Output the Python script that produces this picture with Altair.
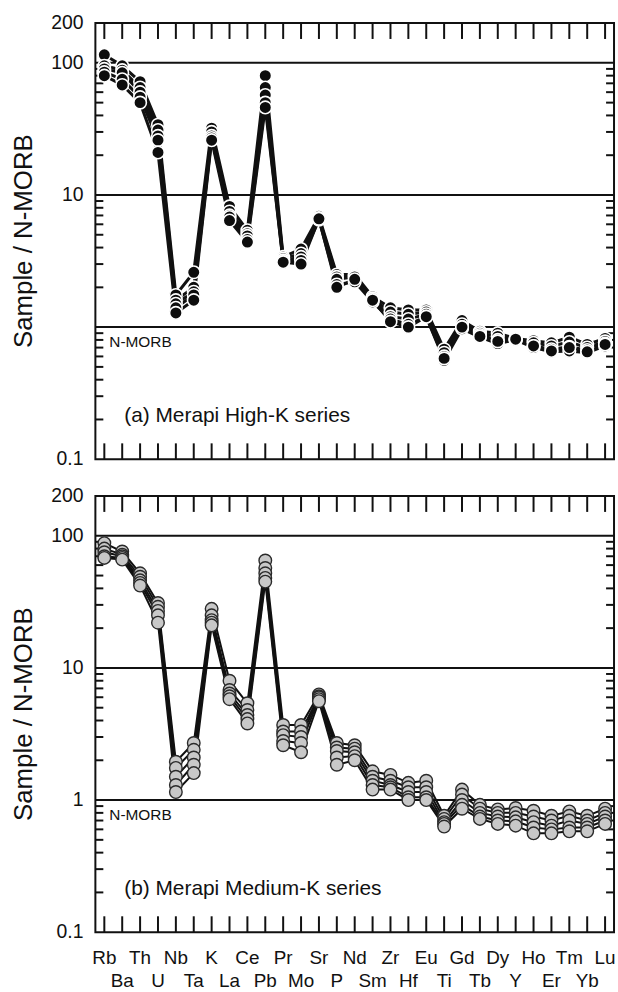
import altair as alt
import pandas as pd

# ---------------- data ----------------
elements = ["Rb", "Ba", "Th", "U", "Nb", "Ta", "K", "La", "Ce", "Pb", "Pr", "Mo",
            "Sr", "P", "Nd", "Sm", "Zr", "Hf", "Eu", "Ti", "Gd", "Tb", "Dy", "Y",
            "Ho", "Er", "Tm", "Yb", "Lu"]

# (a) Merapi High-K series  (Sample / N-MORB)
hk_1 = [115, 95, 72, 34, 1.75, 2.6, 32, 8.2, 5.4, 80, 3.4, 3.9, 6.9, 2.5, 2.5, 1.7, 1.4, 1.35, 1.35, 0.68, 1.12, 0.93, 0.90, 0.82, 0.79, 0.76, 0.84, 0.74, 0.82]
hk_2 = [95, 88, 65, 31, 1.6, 2.0, 30, 7.5, 5.1, 65, 3.3, 3.6, 6.7, 2.4, 2.45, 1.65, 1.3, 1.25, 1.3, 0.64, 1.05, 0.90, 0.85, 0.81, 0.76, 0.72, 0.77, 0.70, 0.78]
hk_3 = [90, 84, 60, 28, 1.5, 1.85, 28, 7.0, 4.9, 57, 3.2, 3.4, 6.6, 2.3, 2.4, 1.6, 1.2, 1.15, 1.25, 0.60, 1.00, 0.87, 0.80, 0.80, 0.72, 0.68, 0.71, 0.67, 0.75]
hk_4 = [85, 75, 55, 26, 1.4, 1.75, 27, 6.8, 4.6, 50, 3.1, 3.2, 6.5, 2.1, 2.2, 1.55, 1.15, 1.05, 1.2, 0.56, 0.97, 0.84, 0.75, 0.80, 0.70, 0.65, 0.66, 0.64, 0.72]
hk_5 = [80, 68, 50, 21, 1.28, 1.6, 26, 6.4, 4.4, 46, 3.1, 3.0, 6.6, 2.0, 2.3, 1.6, 1.1, 1.0, 1.2, 0.58, 1.00, 0.85, 0.78, 0.81, 0.72, 0.66, 0.70, 0.65, 0.74]

# (b) Merapi Medium-K series (Sample / N-MORB)
mk_1 = [88, 76, 52, 31, 1.95, 2.7, 28, 8.0, 5.4, 65, 3.7, 3.7, 6.3, 2.7, 2.6, 1.65, 1.55, 1.35, 1.4, 0.76, 1.2, 0.92, 0.85, 0.87, 0.83, 0.76, 0.82, 0.76, 0.86]
mk_2 = [80, 72, 49, 29, 1.75, 2.4, 25, 6.8, 4.8, 57, 3.3, 3.3, 6.1, 2.5, 2.45, 1.5, 1.4, 1.25, 1.25, 0.72, 1.1, 0.86, 0.80, 0.80, 0.75, 0.70, 0.76, 0.70, 0.80]
mk_3 = [75, 70, 46, 27, 1.5, 2.1, 23, 6.4, 4.4, 52, 3.1, 3.0, 6.0, 2.35, 2.3, 1.4, 1.3, 1.15, 1.15, 0.68, 1.0, 0.80, 0.75, 0.74, 0.68, 0.64, 0.70, 0.66, 0.75]
mk_4 = [70, 68, 44, 25, 1.3, 1.85, 22, 6.1, 4.1, 48, 2.8, 2.7, 5.8, 2.1, 2.15, 1.3, 1.25, 1.05, 1.05, 0.66, 0.92, 0.75, 0.70, 0.69, 0.62, 0.60, 0.62, 0.62, 0.70]
mk_5 = [68, 66, 42, 22, 1.15, 1.6, 21, 5.8, 3.8, 45, 2.6, 2.3, 5.6, 1.85, 2.0, 1.2, 1.2, 1.0, 1.0, 0.63, 0.86, 0.72, 0.66, 0.64, 0.56, 0.56, 0.58, 0.58, 0.66]

high_k = {"HK1": hk_1, "HK2": hk_2, "HK3": hk_3, "HK4": hk_4, "HK5": hk_5}
medium_k = {"MK1": mk_1, "MK2": mk_2, "MK3": mk_3, "MK4": mk_4, "MK5": mk_5}

grid_values = [1, 10, 100]
minor_values = [m * d for d in (0.1, 1, 10) for m in range(2, 10)]
labels_a = [0.1, 10, 100, 200]
labels_b = [0.1, 1, 10, 100, 200]
label_text = {0.1: "0.1", 1: "1", 10: "10", 100: "100", 200: "200"}

# ---------------- style ----------------
W, H = 522, 439
FONT = "Liberation Sans"
INK = "#111111"


def long_df(series):
    rows = []
    for name, vals in series.items():
        for i, (el, v) in enumerate(zip(elements, vals)):
            rows.append({"sample": name, "element": el, "idx": i, "value": v})
    return pd.DataFrame(rows)


x_scale = alt.Scale(type="point", domain=elements, padding=0.5)
y_scale = alt.Scale(type="log", domain=[0.1, 200], nice=False)


def panel(series, label, fill, pstroke, pstroke_w, psize, line_w, label_vals, x_labels, anchor_y):
    df = long_df(series)
    el_df = pd.DataFrame({"element": elements, "row": [i % 2 for i in range(len(elements))]})
    yenc = alt.Y("v:Q", scale=y_scale, axis=None)
    xenc = alt.X("element:N", scale=x_scale, axis=None)

    anchor = alt.Chart(pd.DataFrame({"a": [0]})).mark_rule(color="white", strokeWidth=0.1).encode(
        x=alt.value(-94), x2=alt.value(W + 2), y=alt.value(anchor_y))

    grid = alt.Chart(pd.DataFrame({"v": grid_values})).mark_rule(color=INK, strokeWidth=2).encode(
        y=yenc, x=alt.value(0), x2=alt.value(W))

    ylab = alt.Chart(pd.DataFrame({"v": label_vals, "t": [label_text[v] for v in label_vals]})).mark_text(
        align="right", baseline="middle", fontSize=19.5, font=FONT, color=INK).encode(
        y=yenc, x=alt.value(-12), text="t:N")

    minor_df = pd.DataFrame({"v": minor_values})
    minor_l = alt.Chart(minor_df).mark_rule(color=INK, strokeWidth=2).encode(
        y=yenc, x=alt.value(0), x2=alt.value(8))
    minor_r = alt.Chart(minor_df).mark_rule(color=INK, strokeWidth=2).encode(
        y=yenc, x=alt.value(W - 8), x2=alt.value(W))

    xt_top = alt.Chart(el_df).mark_rule(color=INK, strokeWidth=2).encode(
        x=xenc, y=alt.value(0), y2=alt.value(16))
    xt_bot = alt.Chart(el_df).mark_rule(color=INK, strokeWidth=2).encode(
        x=xenc, y=alt.value(H - 16), y2=alt.value(H))

    lines = alt.Chart(df).mark_line(color=INK, strokeWidth=line_w).encode(
        x=xenc, y=alt.Y("value:Q", scale=y_scale, axis=None),
        detail="sample:N", order="idx:Q")

    points = alt.Chart(df).mark_point(shape="circle", filled=True, fill=fill, stroke=pstroke,
                                      strokeWidth=pstroke_w, size=psize, opacity=1).encode(
        x=xenc, y=alt.Y("value:Q", scale=y_scale, axis=None))

    nmorb = alt.Chart(pd.DataFrame({"v": [1], "t": ["N-MORB"]})).mark_text(
        align="left", baseline="middle", fontSize=15.5, font=FONT, color=INK, dy=15).encode(
        x=alt.value(14), y=yenc, text="t:N")

    plabel = alt.Chart(pd.DataFrame({"t": [label]})).mark_text(
        align="left", baseline="middle", fontSize=21, font=FONT, color=INK).encode(
        x=alt.value(29), y=alt.value(396), text="t:N")

    ytitle = alt.Chart(pd.DataFrame({"t": ["Sample / N-MORB"]})).mark_text(
        align="center", baseline="middle", fontSize=26, font=FONT, color=INK, angle=270).encode(
        x=alt.value(-72), y=alt.value(H / 2), text="t:N")

    layers = [anchor, grid, minor_l, minor_r, xt_top, xt_bot, lines, points, nmorb, plabel,
              ytitle, ylab]

    if x_labels:
        row1 = alt.Chart(el_df[el_df["row"] == 0]).mark_text(
            align="center", baseline="alphabetic", fontSize=19, font=FONT, color=INK).encode(
            x=xenc, y=alt.value(H + 32), text="element:N")
        row2 = alt.Chart(el_df[el_df["row"] == 1]).mark_text(
            align="center", baseline="alphabetic", fontSize=19, font=FONT, color=INK).encode(
            x=xenc, y=alt.value(H + 55), text="element:N")
        layers += [row1, row2]

    return alt.layer(*layers).properties(width=W, height=H)


top = panel(high_k, "(a) Merapi High-K series", "#0d0d0d", "white", 1.6, 160, 3.0,
            labels_a, False, -18)
bottom = panel(medium_k, "(b) Merapi Medium-K series", "#c8c8c8", "#2a2a2a", 1.4, 160, 2.0,
               labels_b, True, H + 59)

chart = alt.vconcat(top, bottom, spacing=37, bounds="flush").properties(
    padding={"left": 0, "right": 0, "top": 0, "bottom": 0}
).configure(background="white").configure_view(stroke=INK, strokeWidth=2)

chart.save("out.html", embed_options={"renderer": "svg", "actions": False})
